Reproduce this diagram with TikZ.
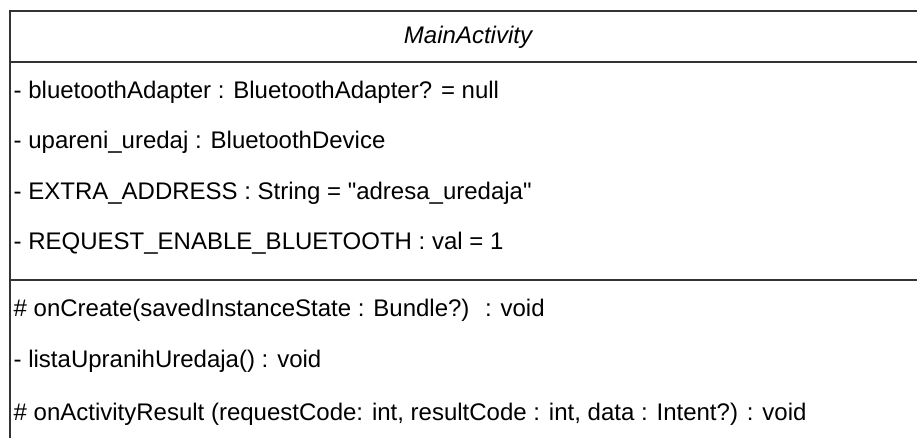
\documentclass[tikz,border=0pt]{standalone}
\usepackage{fontspec}
\setmainfont{Liberation Sans}
\begin{document}
\begin{tikzpicture}[x=1pt,y=-1pt,
  member/.style={anchor=west,inner sep=0pt,font=\fontsize{24}{28}\selectfont},
  classbox/.style={draw=black!80,line width=1.5pt}]
\useasboundingbox (0,0) rectangle (917,437);
% class frame (runs off the right and bottom edge)
\draw[classbox] (925,11) -- (10,11) -- (10,445);
\draw[classbox] (10,62) -- (925,62);
\draw[classbox] (10,280) -- (925,280);
% name
\node[member,anchor=center,font=\fontsize{24}{28}\selectfont\itshape] (name) at (468,37) {MainActivity};
% attributes
\node[member] (attrA) at (13.5,92) {- bluetoothAdapter : BluetoothAdapter? = null};
\node[member] (attrB) at (13.5,142) {- upareni\_uredaj : BluetoothDevice};
\node[member] (attrC) at (13.5,193) {- EXTRA\_ADDRESS : String = \textquotedbl adresa\_uredaja\textquotedbl};
\node[member] (attrD) at (13.5,243) {- REQUEST\_ENABLE\_BLUETOOTH : val = 1};
% operations
\node[member] (opA) at (13.5,310) {\# onCreate(savedInstanceState : Bundle?)~ : void};
\node[member] (opB) at (13.5,361) {- listaUpranihUredaja() : void};
\node[member] (opC) at (13.5,414) {\# onActivityResult (requestCode: int, resultCode : int, data : Intent?) : void};
\end{tikzpicture}
\end{document}
